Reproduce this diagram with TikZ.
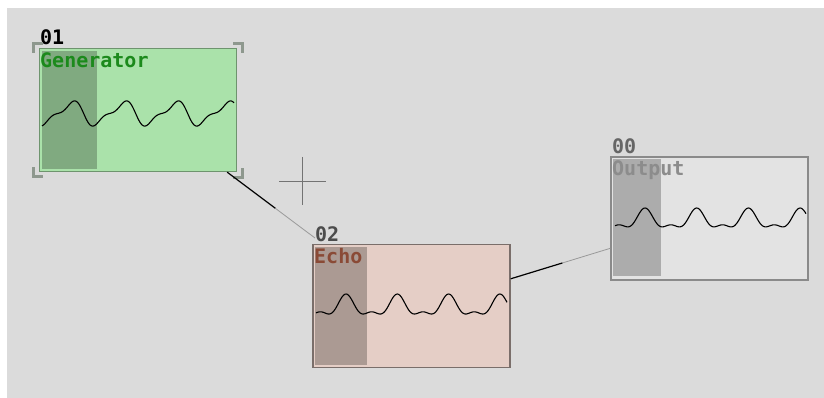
\documentclass[tikz,border=0pt]{standalone}
\usepackage{fontspec}
\newfontfamily\pixfont{DejaVu Sans Mono}
\usetikzlibrary{calc}
\definecolor{canvasgray}{HTML}{DBDBDB}
\definecolor{genfill}{HTML}{AAE2AA}
\definecolor{genedge}{HTML}{6E946E}
\definecolor{genshade}{HTML}{80AA80}
\definecolor{gentext}{HTML}{1C8A1C}
\definecolor{echofill}{HTML}{E5CEC6}
\definecolor{echoedge}{HTML}{7A6E6A}
\definecolor{echoshade}{HTML}{AB9A93}
\definecolor{echotext}{HTML}{8A4A36}
\definecolor{outfill}{HTML}{E3E3E3}
\definecolor{outedge}{HTML}{8A8A8A}
\definecolor{outshade}{HTML}{ACACAC}
\definecolor{outtext}{HTML}{8C8C8C}
\definecolor{selgray}{HTML}{8E988E}

\begin{document}
\begin{tikzpicture}[
    x=1pt, y=-1pt,
    every node/.style={font=\pixfont\bfseries\fontsize{20}{20}\selectfont, inner sep=0pt},
    block/.style={
        draw=#1, line width=1.4pt,
        minimum width=197pt, minimum height=123pt
    },
    shade/.style={fill=#1, draw=none},
    tag/.style={anchor=base west, text=#1},
    wave/.style={black, line width=1.1pt, line join=round},
    wirehot/.style={black, line width=1.2pt},
    wirecold/.style={gray!80, line width=0.8pt},
    bracket/.style={draw=selgray, line width=3pt},
    declare function={
        sawish(\t)=-sin(\t)-0.4*sin(2*\t);
        bump(\t)=cos(\t)+0.5*cos(2*\t);
    },
]
\useasboundingbox (0,0) rectangle (824,398);
\fill[white] (0,0) rectangle (824,398);
\fill[canvasgray] (7,8) rectangle (824,398);

% === Blocks ===
\node[block=genedge, fill=genfill] (gen) at (138,110) {};
\node[block=echoedge, fill=echofill] (echo) at (411.5,306) {};
\node[block=outedge, fill=outfill] (out) at (709.5,218.5) {};

% shaded windows
\fill[shade=genshade] ([shift={(3,3)}]gen.north west) rectangle ++(55,118);
\fill[shade=echoshade] ([shift={(3,3)}]echo.north west) rectangle ++(52,118);
\fill[shade=outshade] ([shift={(3,3)}]out.north west) rectangle ++(48,117);

% === Labels ===
\node[tag=black] (genid) at (40,45) {01};
\node[tag=gentext] (genname) at (40,68) {Generator};
\node[tag=black!70] (echoid) at (315,241) {02};
\node[tag=echotext] (echoname) at (314,263) {Echo};
\node[tag=black!60] (outid) at (612,154) {00};
\node[tag=outtext] (outname) at (612,176) {Output};

% === Waveforms ===
\draw[wave] plot[domain=42:234, samples=160]
    (\x, {113.5 - 10.4*sawish(300+(\x-75)/52*360)});
\draw[wave] plot[domain=316:507, samples=160]
    (\x, {294 + 8.9*(1.5-bump((\x-346)/51.3*360))});
\draw[wave] plot[domain=615:806, samples=160]
    (\x, {208 + 8.4*(1.5-bump((\x-645)/51.7*360))});

% === Selection brackets ===
\draw[bracket] ([shift={(-5,5)}]gen.north west) -- ++(0,-9) -- ++(9,0);
\draw[bracket] ([shift={(-4,-4)}]gen.north east) -- ++(9,0) -- ++(0,9);
\draw[bracket] ([shift={(-5,-5)}]gen.south west) -- ++(0,9) -- ++(9,0);
\draw[bracket] ([shift={(-4,5)}]gen.south east) -- ++(9,0) -- ++(0,-9);

% === Connectors ===
\coordinate (genport) at ([xshift=-10pt]gen.south east);
\coordinate (echoport) at ([shift={(0,-3)}]echoid.base west);
\coordinate (echoout) at ([yshift=-35pt]echo.north east);
\coordinate (outin) at ([yshift=-92pt]out.north west);
\draw[wirehot] (genport) -- ($(genport)!0.55!(echoport)$) coordinate (mid1);
\draw[wirecold] (mid1) -- (echoport);
\draw[wirehot] (echoout) -- ($(echoout)!0.52!(outin)$) coordinate (mid2);
\draw[wirecold] (mid2) -- (outin);

% cursor cross
\draw[black!55, line width=0.8pt] (279,181) -- (326,181) (302.5,157) -- (302.5,205);

\end{tikzpicture}
\end{document}
